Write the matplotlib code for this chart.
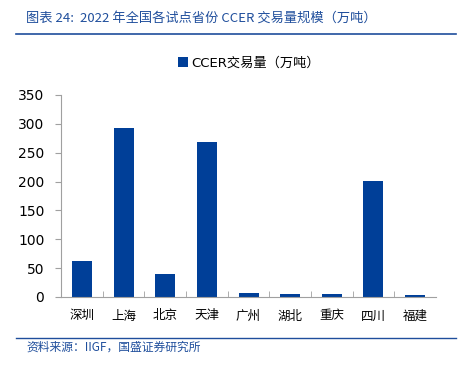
import matplotlib
matplotlib.use("Agg")
import matplotlib.pyplot as plt
from matplotlib.lines import Line2D

plt.rcParams['font.family'] = ['DejaVu Sans', 'Noto Sans CJK SC']

provinces = ["深圳", "上海", "北京", "天津", "广州", "湖北", "重庆", "四川", "福建"]
volume = [62, 293, 40, 268, 7, 5, 5.5, 201, 3]
y_ticks = [0, 50, 100, 150, 200, 250, 300, 350]

blue = "#003f98"
title_blue = "#1f4e9c"

fig = plt.figure(figsize=(4.7, 3.65), dpi=100)
ax = fig.add_axes([61 / 470, 1 - 297 / 365, 375 / 470, 202 / 365])

x = range(len(provinces))
ax.bar(x, volume, width=0.48, color=blue, label="CCER交易量（万吨）", zorder=2)

ax.set_ylim(0, 350)
ax.set_xlim(-0.5, len(provinces) - 0.5)
ax.set_yticks(y_ticks)
ax.set_yticklabels([str(v) for v in y_ticks], fontsize=10)
ax.set_xticks([i + 0.5 for i in range(len(provinces) - 1)], minor=True)
ax.set_xticks(list(x))
ax.set_xticklabels(provinces, fontsize=9, family=['Noto Sans CJK SC'])
ax.tick_params(axis='x', which='major', length=0, pad=9)
ax.tick_params(axis='x', which='minor', length=4, color='#a0a0a0', direction='in')
ax.tick_params(axis='y', length=4, color='#a0a0a0', pad=8)
for s in ['top', 'right']:
    ax.spines[s].set_visible(False)
for s in ['left', 'bottom']:
    ax.spines[s].set_color('#a0a0a0')
    ax.spines[s].set_linewidth(0.8)

ax.legend(loc='upper center', bbox_to_anchor=(0.5, 1.25), frameon=False,
          handlelength=0.8, handleheight=0.8, handletextpad=0.2,
          prop={'family': ['DejaVu Sans', 'Noto Sans CJK SC'], 'size': 9.5})

fig.text(26 / 470, 1 - 18 / 365, "图表 24:  2022 年全国各试点省份 CCER 交易量规模（万吨）",
         color=title_blue, fontsize=9.5, style='italic', va='center',
         family=['Noto Sans CJK SC'])
fig.add_artist(Line2D([16 / 470, 456 / 470], [1 - 34 / 365] * 2, color=title_blue, lw=1.2))
fig.add_artist(Line2D([16 / 470, 456 / 470], [1 - 338 / 365] * 2, color=title_blue, lw=1.0))
fig.text(26 / 470, 1 - 347 / 365, "资料来源：IIGF，国盛证券研究所",
         color=title_blue, fontsize=8.5, style='italic', va='center',
         family=['Noto Sans CJK SC'])

fig.savefig("out.png", dpi=100)
